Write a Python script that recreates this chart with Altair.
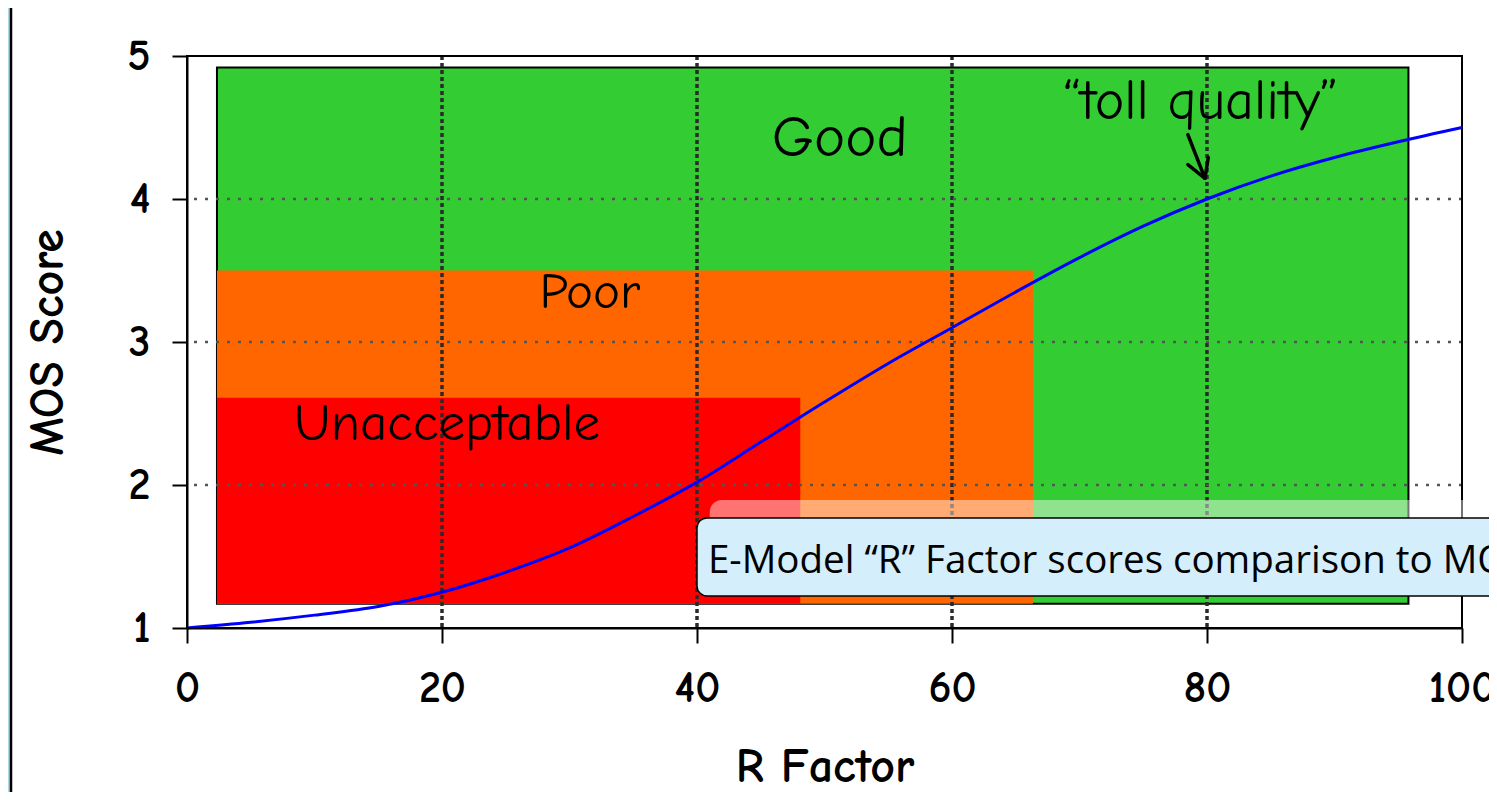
import altair as alt
import pandas as pd

# ---------------- data ----------------
r_factor = [0, 5, 10, 15, 20, 25, 30, 35, 40, 45, 50, 55, 60, 65, 70, 75, 80, 85, 90, 95, 100]
mos_score = [1.00, 1.04, 1.09, 1.15, 1.25, 1.39, 1.56, 1.78, 2.02, 2.30, 2.58, 2.85, 3.10,
             3.35, 3.59, 3.81, 4.00, 4.16, 4.29, 4.40, 4.50]

band_names = ["Good", "Poor", "Unacceptable"]
band_r_start = [2.35, 2.35, 2.35]
band_r_end = [95.8, 66.35, 48.1]
band_mos_low = [1.17, 1.17, 1.17]
band_mos_high = [4.92, 3.50, 2.61]
band_colors = ["#33cc33", "#ff6600", "#ff0000"]

grid_r = [20, 40, 60, 80]
grid_mos = [2, 3, 4]

x_ticks = [0, 20, 40, 60, 80, 100]
y_ticks = [1, 2, 3, 4, 5]

label_good = ("Good", 51.2, 4.43)
label_poor = ("Poor", 31.6, 3.34)
label_unacc = ("Unacceptable", 20.4, 2.43)
label_toll = ("\u201ctoll quality\u201d", 79.5, 4.68)

arrow_r_start = [78.5, 78.5, 80.1]
arrow_mos_start = [4.45, 4.24, 4.29]
arrow_r_end = [79.84, 79.84, 79.84]
arrow_mos_end = [4.145, 4.145, 4.145]

callout_text = "E-Model \u201cR\u201d Factor scores comparison to MOS"
callout_r = [40.0, 115.0]
callout_mos = [1.224, 1.77]
shadow_r = [41.0, 115.0]
shadow_mos = [1.5, 1.895]
callout_text_r = 40.86
callout_text_mos = 1.47

# ---------------- build tables ----------------
curve = pd.DataFrame({"r": r_factor, "mos": mos_score})
bands = pd.DataFrame({"name": band_names, "r": band_r_start, "r2": band_r_end,
                      "mos": band_mos_low, "mos2": band_mos_high, "color": band_colors})
vgrid = pd.DataFrame({"r": grid_r})
hgrid = pd.DataFrame({"mos": grid_mos})
arrow = pd.DataFrame({"r": arrow_r_start, "mos": arrow_mos_start,
                      "r2": arrow_r_end, "mos2": arrow_mos_end})
frame = pd.DataFrame({"r": [0], "r2": [100], "mos": [1], "mos2": [5]})
callout = pd.DataFrame({"r": [callout_r[0]], "r2": [callout_r[1]],
                        "mos": [callout_mos[0]], "mos2": [callout_mos[1]]})
shadow = pd.DataFrame({"r": [shadow_r[0]], "r2": [shadow_r[1]],
                       "mos": [shadow_mos[0]], "mos2": [shadow_mos[1]]})
ctext = pd.DataFrame({"r": [callout_text_r], "mos": [callout_text_mos], "t": [callout_text]})
dummy = pd.DataFrame({"a": [0]})

FONT = "Comic Sans MS, Comic Neue, DejaVu Sans"

xs = alt.Scale(domain=[0, 100], nice=False, zero=False)
ys = alt.Scale(domain=[1, 5], nice=False, zero=False)

xaxis = alt.Axis(values=x_ticks, grid=False, domainColor="black", domainWidth=2,
                 tickColor="black", tickWidth=2, tickSize=15, labelFont=FONT,
                 labelFontSize=44, labelFontWeight="bold", labelColor="black",
                 labelPadding=23, labelFlush=False, labelOverlap=False, format="d",
                 titleFont=FONT, titleFontSize=48, titleFontWeight="bold",
                 titleColor="black", titlePadding=33, zindex=1)
yaxis = alt.Axis(values=y_ticks, grid=False, domainColor="black", domainWidth=2,
                 tickColor="black", tickWidth=2, tickSize=15, labelFont=FONT,
                 labelFontSize=44, labelFontWeight="bold", labelColor="black",
                 labelPadding=22, labelOverlap=False, format="d",
                 titleFont=FONT, titleFontSize=48, titleFontWeight="bold",
                 titleColor="black", titlePadding=54, zindex=1)


def X(f="r"):
    return alt.X(f, type="quantitative", scale=xs, axis=xaxis, title="R Factor")


def Y(f="mos"):
    return alt.Y(f, type="quantitative", scale=ys, axis=yaxis, title="MOS Score")


panel = alt.Chart(dummy).mark_rect(fill="white", stroke="black", strokeWidth=2.5).encode(
    x=alt.value(-176), x2=alt.value(1400), y=alt.value(-60), y2=alt.value(800))

band_fill = alt.Chart(bands).transform_filter(alt.datum.name != "Good").mark_rect().encode(
    x=X(), x2="r2", y=Y(), y2="mos2", fill=alt.Fill("color:N", scale=None))

green_fill = alt.Chart(bands).transform_filter(alt.datum.name == "Good").mark_rect(
    stroke="black", strokeWidth=2).encode(
    x=X(), x2="r2", y=Y(), y2="mos2", fill=alt.Fill("color:N", scale=None))

vgrid_layer = alt.Chart(vgrid).mark_rule(color="#2a2a2a", strokeWidth=3.5,
                                         strokeDash=[4, 3]).encode(x=X())
hgrid_layer = alt.Chart(hgrid).mark_rule(color="#555555", strokeWidth=2.5,
                                         strokeDash=[3, 8]).encode(y=Y())

frame_layer = alt.Chart(frame).mark_rect(filled=False, stroke="black", strokeWidth=2).encode(
    x=X(), x2="r2", y=Y(), y2="mos2")

line_layer = alt.Chart(curve).mark_line(color="#0000ff", strokeWidth=3,
                                        interpolate="monotone").encode(x=X(), y=Y())

arrow_layer = alt.Chart(arrow).mark_rule(color="black", strokeWidth=3.5,
                                         strokeCap="round").encode(
    x=X(), y=Y(), x2="r2", y2="mos2")


def label(spec, size):
    txt, r, m = spec
    df = pd.DataFrame({"r": [r], "mos": [m], "t": [txt]})
    return alt.Chart(df).mark_text(font=FONT, fontSize=size, color="black",
                                   align="center", baseline="middle").encode(
        x=X(), y=Y(), text="t:N")


shadow_layer = alt.Chart(shadow).mark_rect(fill="white", opacity=0.45, cornerRadius=12).encode(
    x=X(), x2="r2", y=Y(), y2="mos2")
callout_layer = alt.Chart(callout).mark_rect(fill="#d4eefb", stroke="black", strokeWidth=1.5,
                                             cornerRadius=10).encode(
    x=X(), x2="r2", y=Y(), y2="mos2")
callout_text_layer = alt.Chart(ctext).mark_text(font="Open Sans", fontSize=38.5, color="black",
                                                align="left", baseline="middle").encode(
    x=X(), y=Y(), text="t:N")

chart = alt.layer(
    panel,
    green_fill,
    band_fill,
    vgrid_layer,
    hgrid_layer,
    frame_layer,
    line_layer,
    arrow_layer,
    label(label_good, 59),
    label(label_poor, 51),
    label(label_unacc, 53),
    label(label_toll, 56),
    shadow_layer,
    callout_layer,
    callout_text_layer,
).properties(
    width=1275,
    height=572,
    autosize=alt.AutoSizeParams(type="none"),
    padding={"left": 179, "top": 48, "right": 27, "bottom": 164},
    background="#add8e6",
).configure_view(stroke=None)

chart.save("out.html", embed_options={"renderer": "svg", "actions": False})
